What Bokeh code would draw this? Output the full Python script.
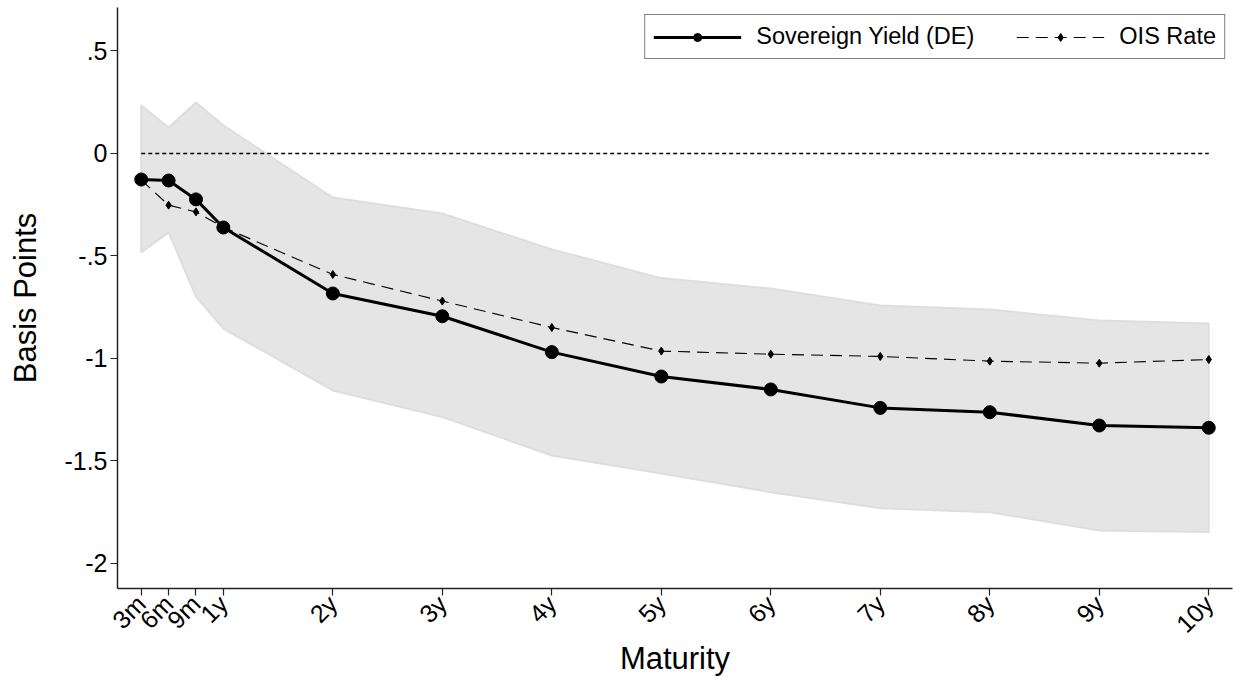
import math
from bokeh.plotting import figure
from bokeh.models import Range1d, FixedTicker, Legend, LegendItem
from bokeh.embed import file_html
from bokeh.resources import INLINE

maturity_months = [3, 6, 9, 12, 24, 36, 48, 60, 72, 84, 96, 108, 120]
tick_labels = ["3m", "6m", "9m", "1y", "2y", "3y", "4y", "5y", "6y", "7y", "8y", "9y", "10y"]

sovereign = [-0.127, -0.132, -0.224, -0.361, -0.683, -0.794, -0.969, -1.088, -1.151, -1.241, -1.262, -1.327, -1.338]
ois = [-0.13, -0.252, -0.285, -0.36, -0.59, -0.720, -0.849, -0.964, -0.979, -0.990, -1.013, -1.023, -1.005]
band_upper = [0.234, 0.127, 0.249, 0.137, -0.215, -0.293, -0.468, -0.608, -0.659, -0.741, -0.761, -0.815, -0.829]
band_lower = [-0.483, -0.385, -0.698, -0.854, -1.156, -1.286, -1.473, -1.561, -1.652, -1.73, -1.75, -1.839, -1.847]

y_ticks = [0.5, 0, -0.5, -1, -1.5, -2]
y_tick_labels = [".5", "0", "-.5", "-1", "-1.5", "-2"]

FONT = "Liberation Sans"

p = figure(width=1233, height=678, output_backend="svg", toolbar_location=None,
           x_range=Range1d(0.4, 122.6), y_range=Range1d(-2.122, 0.712),
           min_border_left=117, min_border_right=1, min_border_top=7, min_border_bottom=90)
p.outline_line_color = None
p.xgrid.visible = False
p.ygrid.visible = False
p.background_fill_color = "white"
p.border_fill_color = "white"

# confidence band
px = maturity_months + maturity_months[::-1]
py = band_upper + band_lower[::-1]
p.patch(px, py, fill_color="#e5e5e5", line_color="#dedede", line_width=2)

# zero line
p.line([maturity_months[0], maturity_months[-1]], [0, 0], line_color="black",
       line_width=1.4, line_dash="4 3")

ois_line = p.line(maturity_months, ois, line_color="black", line_width=1.1, line_dash="12 7")
ois_pts = p.scatter(maturity_months, ois, marker="diamond", size=8, color="black")

sov_line = p.line(maturity_months, sovereign, line_color="black", line_width=3)
sov_pts = p.scatter(maturity_months, sovereign, marker="circle", size=13, color="black")

legend = Legend(items=[
    LegendItem(label="Sovereign Yield (DE)", renderers=[sov_line, sov_pts]),
    LegendItem(label="OIS Rate", renderers=[ois_line, ois_pts]),
], location="top_right", orientation="horizontal")
legend.glyph_width = 88
legend.glyph_height = 20
legend.label_standoff = 15
legend.spacing = 42
legend.padding = 8
legend.margin = 7
legend.border_line_color = "black"
legend.border_line_width = 1.2
legend.label_text_font = FONT
legend.label_text_font_size = "23.5px"
legend.label_text_color = "black"
legend.background_fill_alpha = 1
p.add_layout(legend)

# axes
p.xaxis.ticker = FixedTicker(ticks=maturity_months)
p.xaxis.major_label_overrides = {m: l for m, l in zip(maturity_months, tick_labels)}
p.xaxis.major_label_orientation = math.pi / 4
p.yaxis.ticker = FixedTicker(ticks=y_ticks)
p.yaxis.major_label_overrides = {t: l for t, l in zip(y_ticks, y_tick_labels)}
p.yaxis.major_label_orientation = "horizontal"

for ax in (p.xaxis, p.yaxis):
    ax.minor_tick_line_color = None
    ax.major_tick_out = 7
    ax.major_tick_in = 0
    ax.axis_line_color = "#222222"
    ax.axis_line_width = 1.5
    ax.major_tick_line_color = "#222222"
    ax.major_tick_line_width = 1.2
    ax.major_label_text_font = FONT
    ax.major_label_text_font_size = "25px"
    ax.major_label_text_color = "black"
    ax.axis_label_text_font = FONT
    ax.axis_label_text_font_size = "31px"
    ax.axis_label_text_font_style = "normal"
    ax.axis_label_text_color = "black"

p.xaxis.axis_label = "Maturity"
p.yaxis.axis_label = "Basis Points"
p.xaxis.major_label_standoff = 4
p.yaxis.major_label_standoff = 3
p.xaxis.axis_label_standoff = -10
p.yaxis.axis_label_standoff = 18

open("out.html", "w").write(file_html(p, INLINE))
